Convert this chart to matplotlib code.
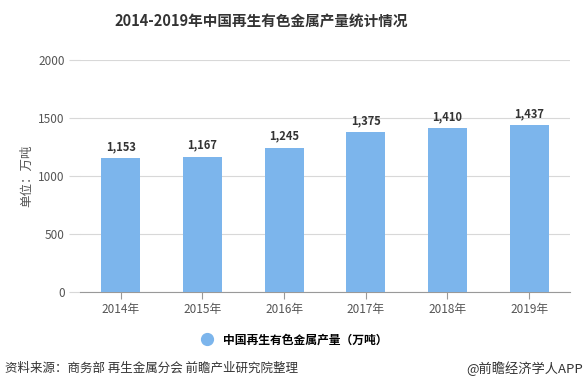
import matplotlib.pyplot as plt
import numpy as np

plt.rcParams['font.family'] = ['Noto Sans CJK SC', 'DejaVu Sans']

years = ["2014年", "2015年", "2016年", "2017年", "2018年", "2019年"]
output = [1153, 1167, 1245, 1375, 1410, 1437]
yTicks = [0, 500, 1000, 1500, 2000]

barColor = "#7cb5ec"
gridColor = "#d8d8d8"
textColor = "#555555"

fig = plt.figure(figsize=(5.86, 3.92), dpi=100)
ax = fig.add_axes([0.1365, 0.2551, 0.9727 - 0.1365, 0.847 - 0.2551])

x = np.arange(len(years))
ax.bar(x, output, width=0.48, color=barColor, zorder=3)
for xi, v in zip(x, output):
    ax.text(xi, v + 45, f"{v:,}", ha="center", va="bottom", fontsize=8,
            fontweight="bold", color="#333333", zorder=4)

ax.set_xlim(-0.5, len(years) - 0.5)
ax.set_ylim(0, 2000)
ax.set_yticks(yTicks)
ax.set_yticklabels([str(t) for t in yTicks])
ax.set_xticks(x)
ax.set_xticklabels(years)
ax.yaxis.grid(True, color=gridColor, linewidth=0.8, zorder=0)
for s in ["top", "right", "left"]:
    ax.spines[s].set_visible(False)
ax.spines["bottom"].set_color("#999999")
ax.spines["bottom"].set_linewidth(0.8)
ax.tick_params(axis="y", length=8, color=gridColor, labelsize=8.5, labelcolor=textColor, pad=3)
ax.tick_params(axis="x", length=5, color="#999999", labelsize=8.5, labelcolor=textColor, pad=3)
ax.set_ylabel("单位：万吨", fontsize=9, color=textColor)
ax.yaxis.set_label_coords(-0.095, 0.5)

fig.text(0.445, 0.945, "2014-2019年中国再生有色金属产量统计情况", ha="center", va="center",
         fontsize=10.5, fontweight="bold", color="#333333")

# legend
fig.legend(handles=[plt.Line2D([], [], marker="o", linestyle="", markersize=8.5,
                               markerfacecolor=barColor, markeredgecolor=barColor)],
           labels=["中国再生有色金属产量（万吨）"], loc="center", bbox_to_anchor=(0.497, 0.133),
           frameon=False, prop={"size": 8.5, "weight": "bold"}, handletextpad=0.4)

fig.text(0.008, 0.06, "资料来源：商务部 再生金属分会 前瞻产业研究院整理", ha="left", va="center",
         fontsize=9, color="#333333")
fig.text(0.995, 0.06, "@前瞻经济学人APP", ha="right", va="center",
         fontsize=9.5, color="#333333")

fig.savefig("out.png", dpi=100)
